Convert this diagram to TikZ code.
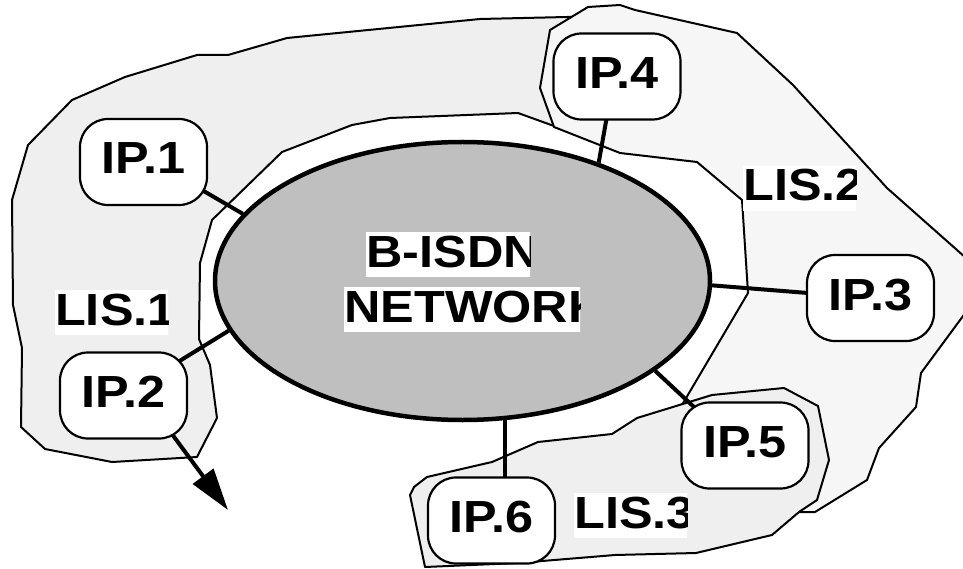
\documentclass[tikz,border=0pt]{standalone}
\usepackage{fontspec}
\setmainfont{Liberation Sans}
\newfontfamily\lblfont{Liberation Sans}[FakeStretch=1.12]
\usetikzlibrary{shapes.geometric,arrows.meta}
\pgfdeclarelayer{regions}
\pgfdeclarelayer{links}
\pgfsetlayers{regions,links,main}
\definecolor{lisgray}{gray}{0.937}
\definecolor{lislight}{gray}{0.965}
\definecolor{netgray}{gray}{0.75}

% white label box whose text is cut off at its right edge
\newcommand{\cliplabel}[5]{%
  \begin{scope}
    \clip (#2,#4-35) rectangle (#3,#4+10);
    \node[lbl, fill=white, anchor=base west, text height=35pt, text depth=10pt] (#1) at (#2,#4) {#5};
  \end{scope}}

\begin{document}
\begin{tikzpicture}[x=1pt,y=-1pt,
  lbl/.style={font=\lblfont\bfseries\fontsize{45}{50}\selectfont, inner sep=0pt},
  ipbox/.style={lbl, draw, line width=2.2pt, fill=white, rounded corners=28pt,
    minimum width=127pt, minimum height=86pt, text height=32pt, text depth=8pt},
  region/.style={draw, line width=2pt, line join=round},
  link/.style={line width=4pt}]
\useasboundingbox (0,0) rectangle (963,569);

% logical IP subnets
\begin{pgfonlayer}{regions}
\filldraw[region, fill=lisgray] (197,457) -- (112,462) -- (45,449) -- (21,427) -- (22,348)
  -- (13,305) -- (12,200) -- (28,145) -- (72,100) -- (125,77) -- (197,55) -- (228,55)
  -- (287,38) -- (480,19) -- (567,17) -- (600,17) -- (600,135) -- (554,126) -- (518,113)
  -- (390,118) -- (352,125) -- (282,152) -- (212,220) -- (200,263) -- (199,339)
  -- (210,365) -- (217,418) -- cycle;
\filldraw[region, fill=lislight] (550,30) -- (588,7) -- (620,5) -- (635,10) -- (737,33)
  -- (793,85) -- (887,188) -- (966,258) -- (966,312) -- (921,373) -- (916,407)
  -- (879,448) -- (867,480) -- (815,512) -- (799,512) -- (780,470) -- (700,425)
  -- (679,410) -- (748,293) -- (742,200) -- (697,162) -- (620,153) -- (554,127)
  -- (540,88) -- cycle;
\filldraw[region, fill=lisgray] (784,388) -- (818,406) -- (829,460) -- (817,500)
  -- (799,512) -- (772,535) -- (696,553) -- (615,555) -- (518,563) -- (425,567)
  -- (410,495) -- (414,487) -- (427,477) -- (492,462) -- (538,442) -- (612,434)
  -- (637,418) -- (712,395) -- cycle;
\end{pgfonlayer}

% network
\node[ellipse, draw, line width=4.5pt, fill=netgray, minimum width=495pt,
  minimum height=278pt, inner sep=0pt] (net) at (462.5,281) {};
\cliplabel{netA}{366}{530}{267}{B-ISDN}
\cliplabel{netB}{344}{580}{322}{NETWORK}

% hosts
\node[ipbox] (ip1) at (143.5,162) {IP.1};
\node[ipbox] (ip2) at (123.5,395.5) {IP.2};
\node[ipbox] (ip3) at (870.5,298) {IP.3};
\node[ipbox] (ip4) at (617,76.5) {IP.4};
\node[ipbox] (ip5) at (745,445.5) {IP.5};
\node[ipbox] (ip6) at (491.5,520.5) {IP.6};
\coordinate (tip) at (228,510);

% subnet names
\cliplabel{lis1}{55}{168}{325}{LIS.1}
\cliplabel{lis2}{743}{856}{201}{LIS.2}
\cliplabel{lis3}{574}{687}{528}{LIS.3}

% attachments
\begin{pgfonlayer}{links}
\draw[link] ([yshift=6pt]ip1.center) -- (net.163.5);
\draw[link] ([xshift=-3pt]ip4.center) -- (net.41.4);
\draw[link] (ip3.center) -- (net.-1.4);
\draw[link] (ip2.center) -- (net.192.1);
\draw[link] ([yshift=-9pt]ip5.center) -- (net.-25.6);
\draw[link] (net.-73.9) -- (net.-73.9 |- ip6.center);
\draw[link, -{Triangle[length=42pt,width=25pt]}] ([xshift=20pt]ip2.center) -- (tip);
\end{pgfonlayer}
\end{tikzpicture}
\end{document}
